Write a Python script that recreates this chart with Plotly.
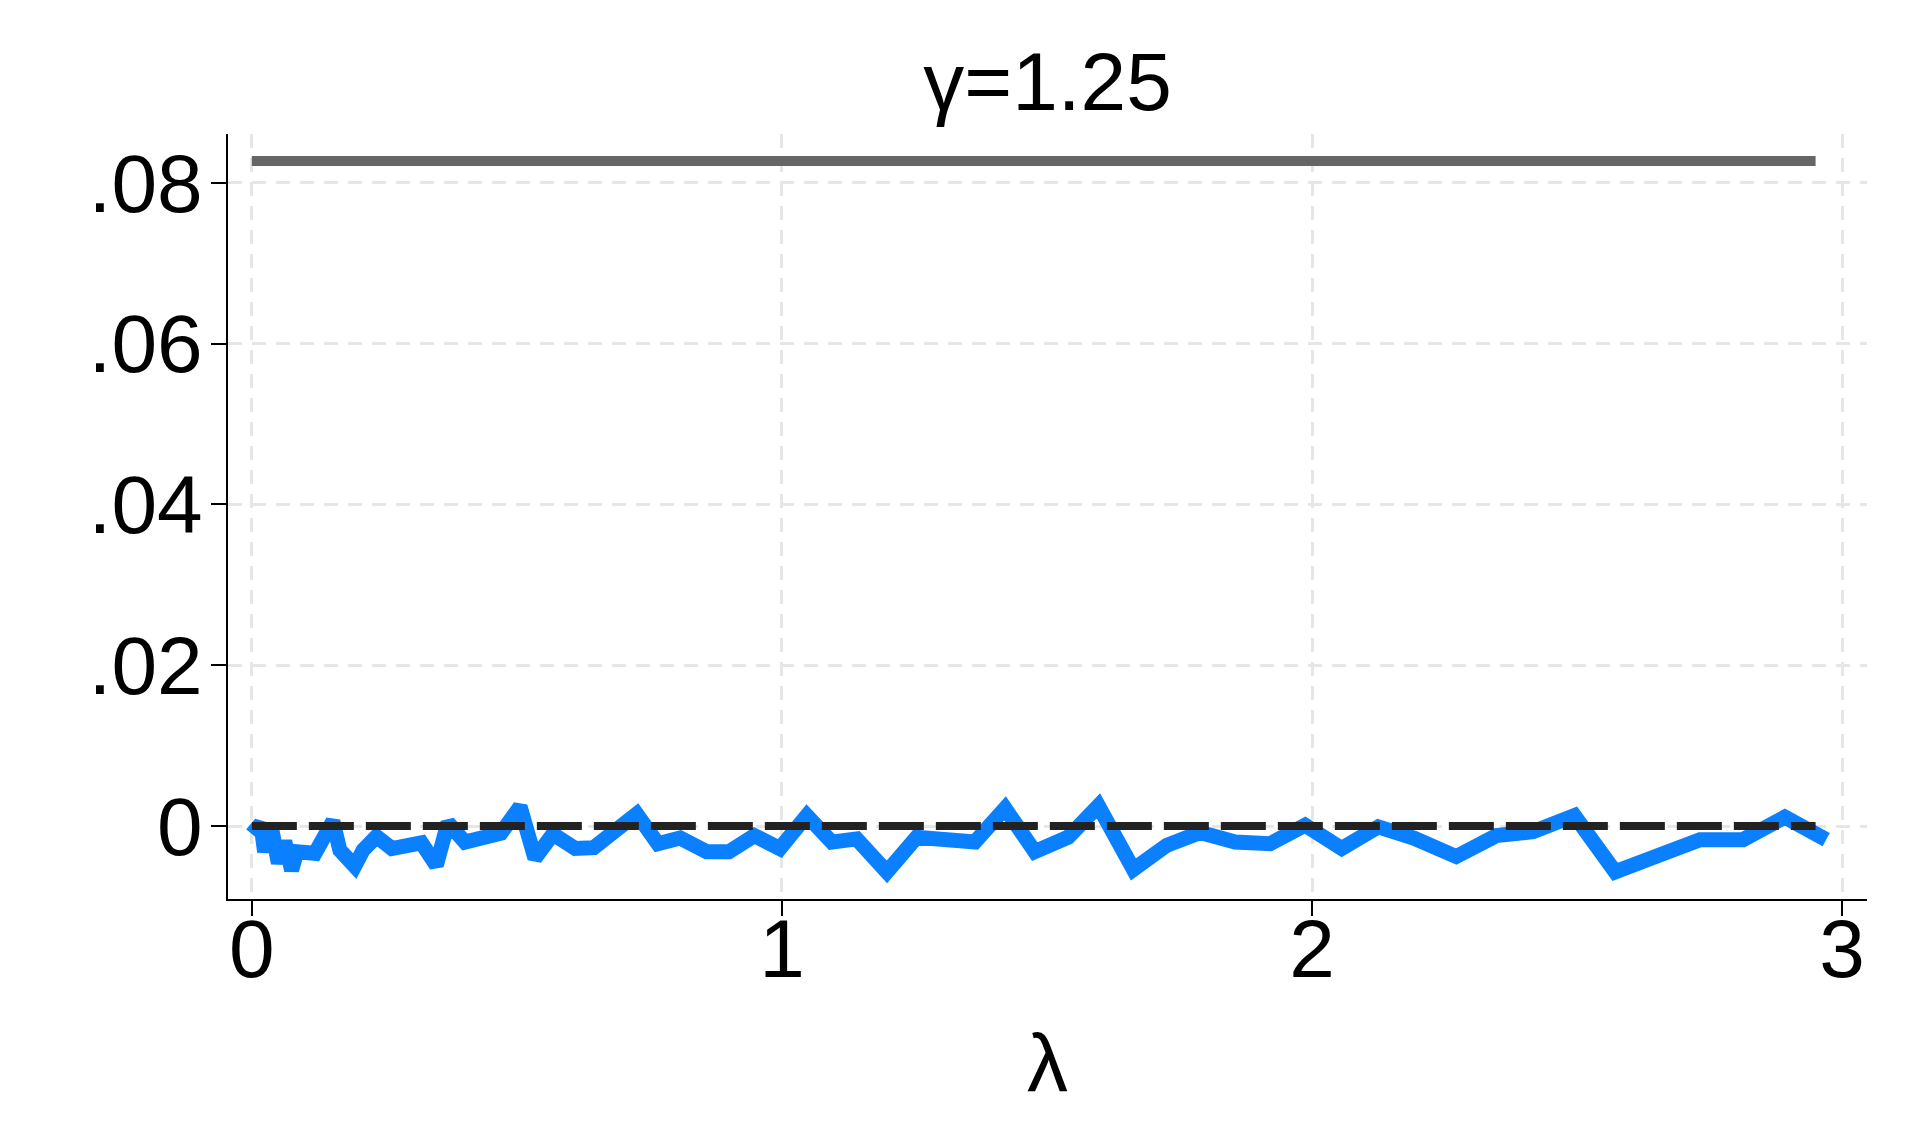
import plotly.graph_objects as go

# blue series
lam = [0.000, 0.017, 0.024, 0.036, 0.050, 0.062, 0.075, 0.085, 0.119, 0.153,
       0.166, 0.194, 0.210, 0.235, 0.264, 0.295, 0.320, 0.348, 0.370, 0.402,
       0.440, 0.470, 0.506, 0.534, 0.568, 0.610, 0.645, 0.686, 0.726, 0.766,
       0.808, 0.858, 0.900, 0.948, 0.996, 1.047, 1.094, 1.141, 1.198, 1.254,
       1.310, 1.364, 1.421, 1.477, 1.540, 1.597, 1.663, 1.726, 1.789, 1.855,
       1.921, 1.987, 2.056, 2.125, 2.192, 2.272, 2.348, 2.417, 2.495, 2.572,
       2.652, 2.732, 2.813, 2.892, 2.970]
diff = [-0.0010, 0.0003, -0.0032, 0.0001, -0.0046, -0.0019, -0.0055, -0.0032, -0.0034, 0.0006,
        -0.0030, -0.0050, -0.0030, -0.0013, -0.0028, -0.0025, -0.0021, -0.0049, 0.0004, -0.0020,
        -0.0013, -0.0009, 0.0024, -0.0040, -0.0010, -0.0028, -0.0027, -0.0006, 0.0015, -0.0022,
        -0.0015, -0.0032, -0.0032, -0.0012, -0.0028, 0.0013, -0.0020, -0.0016, -0.0057, -0.0014,
        -0.0017, -0.0020, 0.0022, -0.0032, -0.0014, 0.0025, -0.0054, -0.0024, -0.0008, -0.0020,
        -0.0022, 0.0001, -0.0028, -0.0001, -0.0015, -0.0038, -0.0012, -0.0007, 0.0013, -0.0057,
        -0.0037, -0.0017, -0.0017, 0.0011, -0.0017]

# flat reference levels
bound_x = [0.0, 2.95]
bound_y = [0.0827, 0.0827]
zero_x = [0.0, 2.95]
zero_y = [0.0, 0.0]

y_ticks = [0, 0.02, 0.04, 0.06, 0.08]
y_labels = ["0", ".02", ".04", ".06", ".08"]
x_ticks = [0, 1, 2, 3]
x_labels = ["0", "1", "2", "3"]

FONT = "Liberation Sans, Arial, sans-serif"

fig = go.Figure()
fig.add_trace(go.Scatter(x=bound_x, y=bound_y, mode="lines",
                         line=dict(color="#666666", width=10)))
fig.add_trace(go.Scatter(x=lam, y=diff, mode="lines",
                         line=dict(color="#0A80FF", width=15)))
fig.add_trace(go.Scatter(x=zero_x, y=zero_y, mode="lines",
                         line=dict(color="#222222", width=8, dash="45px,12px")))

fig.update_layout(
    width=1894, height=1130,
    margin=dict(l=220, r=35, t=126, b=239),
    paper_bgcolor="white", plot_bgcolor="white",
    showlegend=False,
    font=dict(family=FONT, color="black", size=82),
    title=dict(text="γ=1.25", x=0.5, xref="paper", xanchor="center",
               y=1, yref="paper", yanchor="bottom", pad=dict(b=24),
               font=dict(size=82)),
)
fig.update_xaxes(
    range=[-0.045, 3.047], tickvals=x_ticks, ticktext=x_labels,
    showline=True, linecolor="black", linewidth=2, mirror=False,
    ticks="outside", ticklen=15, tickwidth=2, tickcolor="black",
    showgrid=True, gridcolor="#e6e6e6", gridwidth=2.5, griddash="14px,10px",
    zeroline=False, ticklabelstandoff=-37,
    title=dict(text="λ", font=dict(size=82), standoff=40),
)
fig.update_yaxes(
    range=[-0.00908, 0.08607], tickvals=y_ticks, ticktext=y_labels,
    showline=True, linecolor="black", linewidth=2, mirror=False,
    ticks="outside", ticklen=15, tickwidth=2, tickcolor="black",
    showgrid=True, gridcolor="#e6e6e6", gridwidth=2.5, griddash="14px,10px",
    zeroline=False, ticklabelstandoff=-8,
)

fig.write_html("out.html")
